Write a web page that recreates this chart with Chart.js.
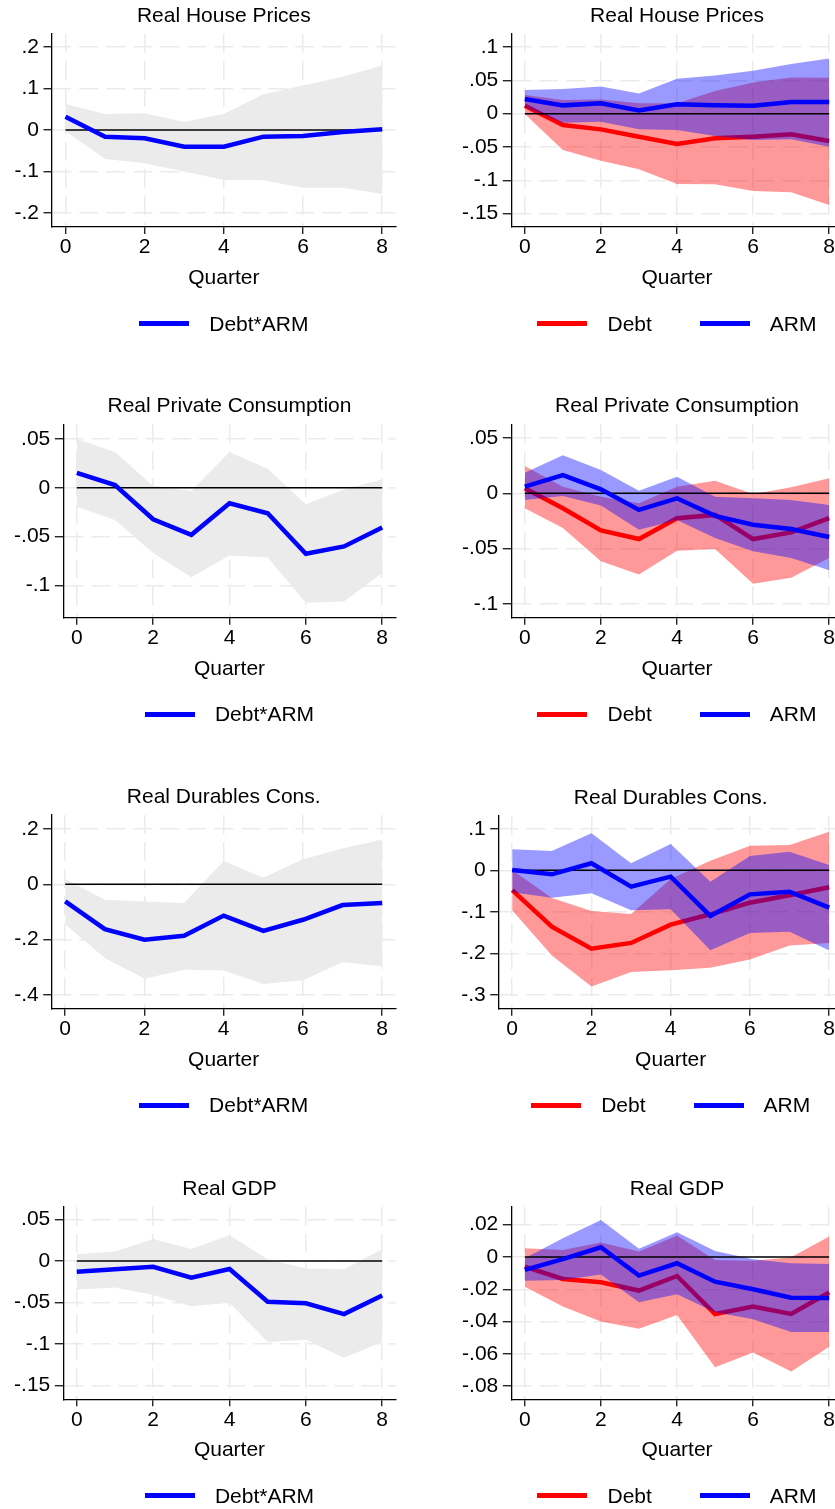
<!DOCTYPE html>
<html>
<head>
<meta charset="utf-8">
<title>Impulse responses: Debt, ARM and Debt*ARM</title>
<script src="https://cdn.jsdelivr.net/npm/chart.js"></script>
<style>
  html, body { margin: 0; padding: 0; background: #fff; overflow: hidden; width: 835px; height: 1509px; }
  body { position: relative; }
  canvas { position: absolute; }
  .legend { position: absolute; display: flex; justify-content: center; align-items: center; height: 25px;
            font: 21px "Liberation Sans", Arial, sans-serif; color: #000; white-space: nowrap; }
  .legend .item { display: flex; align-items: center; }
  .legend .swatch { display: inline-block; width: 50px; height: 5px; margin-right: 20px; }
</style>
</head>
<body>
<script>
// --- Horizon and axis ticks ---
const quarters = [0, 1, 2, 3, 4, 5, 6, 7, 8];
const zeroLine = [0, 0, 0, 0, 0, 0, 0, 0, 0];
const xTicks = [0, 2, 4, 6, 8];
const xTickLabels = ['0', '2', '4', '6', '8'];

// --- Real House Prices ---
const hpInt   = [0.032, -0.016, -0.020, -0.040, -0.040, -0.016, -0.0145, -0.005, 0.002];
const hpIntHi = [0.0625, 0.0385, 0.040, 0.019, 0.039, 0.086, 0.107, 0.128, 0.155];
const hpIntLo = [-0.003, -0.070, -0.080, -0.100, -0.120, -0.121, -0.139, -0.139, -0.154];
const hpDebt   = [0.012, -0.017, -0.0235, -0.0345, -0.0455, -0.037, -0.0345, -0.031, -0.041];
const hpDebtHi = [0.028, 0.0205, 0.0215, 0.0155, 0.0155, 0.034, 0.047, 0.0545, 0.054];
const hpDebtLo = [-0.0005, -0.0545, -0.0705, -0.0835, -0.1055, -0.106, -0.116, -0.118, -0.137];
const hpArm   = [0.022, 0.0125, 0.0155, 0.005, 0.014, 0.0125, 0.012, 0.0175, 0.0175];
const hpArmHi = [0.0355, 0.037, 0.041, 0.0305, 0.0525, 0.0575, 0.0645, 0.0745, 0.083];
const hpArmLo = [0.0095, -0.0135, -0.012, -0.0235, -0.0245, -0.0335, -0.0395, -0.0385, -0.0495];
const hpIntTicks = [-0.2, -0.1, 0, 0.1, 0.2];
const hpIntTickLabels = ['-.2', '-.1', '0', '.1', '.2'];
const hpTicks = [-0.15, -0.1, -0.05, 0, 0.05, 0.1];
const hpTickLabels = ['-.15', '-.1', '-.05', '0', '.05', '.1'];

// --- Real Private Consumption ---
const pcInt   = [0.0153, 0.0027, -0.0323, -0.0483, -0.016, -0.0262, -0.0677, -0.0602, -0.0408];
const pcIntHi = [0.050, 0.0367, 0.0017, -0.0034, 0.0367, 0.0194, -0.017, -0.0017, 0.0085];
const pcIntLo = [-0.0194, -0.033, -0.067, -0.0918, -0.0694, -0.0714, -0.118, -0.1167, -0.0874];
const pcDebt   = [0.0045, -0.0135, -0.0335, -0.0413, -0.0225, -0.0195, -0.0413, -0.0353, -0.0225];
const pcDebtHi = [0.0246, 0.006, -0.003, -0.009, 0.006, 0.0114, -0.0006, 0.0054, 0.0135];
const pcDebtLo = [-0.0135, -0.0314, -0.0614, -0.0734, -0.0518, -0.0503, -0.0817, -0.0763, -0.0584];
const pcArm   = [0.006, 0.0165, 0.0036, -0.015, -0.0045, -0.0204, -0.0284, -0.0323, -0.0395];
const pcArmHi = [0.0186, 0.0344, 0.021, 0.0024, 0.015, -0.003, -0.0045, -0.006, -0.0105];
const pcArmLo = [-0.006, -0.0024, -0.011, -0.033, -0.024, -0.0404, -0.0524, -0.0584, -0.0695];
const pcTicks = [-0.1, -0.05, 0, 0.05];
const pcTickLabels = ['-.1', '-.05', '0', '.05'];

// --- Real Durables Cons. ---
const dcInt   = [-0.062, -0.162, -0.200, -0.186, -0.113, -0.168, -0.128, -0.075, -0.068];
const dcIntHi = [0.019, -0.056, -0.062, -0.068, 0.084, 0.024, 0.090, 0.129, 0.162];
const dcIntLo = [-0.144, -0.266, -0.341, -0.308, -0.311, -0.360, -0.346, -0.281, -0.296];
const dcDebt   = [-0.0476, -0.136, -0.189, -0.175, -0.131, -0.106, -0.078, -0.060, -0.041];
const dcDebtHi = [0.0008, -0.067, -0.098, -0.105, -0.021, 0.023, 0.059, 0.061, 0.093];
const dcDebtLo = [-0.096, -0.205, -0.280, -0.245, -0.241, -0.235, -0.215, -0.181, -0.175];
const dcArm   = [0.001, -0.0097, 0.017, -0.0395, -0.0153, -0.110, -0.058, -0.0516, -0.090];
const dcArmHi = [0.0508, 0.0468, 0.0895, 0.017, 0.0637, -0.0274, 0.0347, 0.045, 0.0129];
const dcArmLo = [-0.053, -0.066, -0.0555, -0.096, -0.094, -0.1926, -0.151, -0.148, -0.193];
const dcIntTicks = [-0.4, -0.2, 0, 0.2];
const dcIntTickLabels = ['-.4', '-.2', '0', '.2'];
const dcTicks = [-0.3, -0.2, -0.1, 0, 0.1];
const dcTickLabels = ['-.3', '-.2', '-.1', '0', '.1'];

// --- Real GDP ---
const gdpInt   = [-0.0129, -0.010, -0.0069, -0.020, -0.0097, -0.049, -0.051, -0.064, -0.0415];
const gdpIntHi = [0.008, 0.0113, 0.0266, 0.0145, 0.031, 0.002, -0.0089, -0.010, 0.0141];
const gdpIntLo = [-0.0343, -0.0319, -0.041, -0.0544, -0.0504, -0.0976, -0.0948, -0.1165, -0.0976];
const gdpDebt   = [-0.006, -0.0136, -0.0157, -0.0208, -0.0118, -0.0353, -0.0307, -0.0353, -0.022];
const gdpDebtHi = [0.0054, 0.0043, 0.0089, 0.0033, 0.0132, -0.0019, -0.0023, -0.0002, 0.0126];
const gdpDebtLo = [-0.0184, -0.0307, -0.040, -0.0445, -0.0359, -0.0682, -0.0592, -0.0709, -0.0555];
const gdpArm   = [-0.008, -0.0014, 0.006, -0.0115, -0.0039, -0.0153, -0.020, -0.0252, -0.0254];
const gdpArmHi = [-0.0008, 0.0115, 0.0229, 0.005, 0.0153, 0.0037, -0.0014, -0.0039, -0.0043];
const gdpArmLo = [-0.0148, -0.0143, -0.0109, -0.028, -0.0231, -0.0343, -0.0386, -0.0465, -0.0465];
const gdpIntTicks = [-0.15, -0.1, -0.05, 0, 0.05];
const gdpIntTickLabels = ['-.15', '-.1', '-.05', '0', '.05'];
const gdpTicks = [-0.08, -0.06, -0.04, -0.02, 0, 0.02];
const gdpTickLabels = ['-.08', '-.06', '-.04', '-.02', '0', '.02'];

// --- Styles ---
const BLUE = '#0000ff';
const RED = '#ff0000';
const GRAY_BAND = '#ebebeb';
const RED_BAND = 'rgba(255, 0, 0, 0.4)';
const BLUE_BAND = 'rgba(0, 0, 255, 0.4)';
const FONT = '"Liberation Sans", Arial, sans-serif';
const PANEL_H = 390;

Chart.defaults.font.family = FONT;
Chart.defaults.font.size = 21;
Chart.defaults.color = '#000';

const interaction = (mid, lo, hi) => [{ label: 'Debt*ARM', color: BLUE, band: GRAY_BAND, mid, lo, hi }];
const debtArm = (d, dLo, dHi, a, aLo, aHi) => [
    { label: 'Debt', color: RED, band: RED_BAND, mid: d, lo: dLo, hi: dHi },
    { label: 'ARM', color: BLUE, band: BLUE_BAND, mid: a, lo: aLo, hi: aHi }
];

// box = plot area [left, top, right, bottom] inside each canvas
const panels = [
    { x: 0, y: 0, w: 417, box: [52, 33.7, 395.7, 227], yRange: [-0.2332, 0.2315], title: 'Real House Prices',
      yTicks: hpIntTicks, yLabels: hpIntTickLabels, series: interaction(hpInt, hpIntLo, hpIntHi) },
    { x: 417, y: 0, w: 440, box: [94.3, 33.7, 425.7, 227], yRange: [-0.1701, 0.1201], title: 'Real House Prices',
      yTicks: hpTicks, yLabels: hpTickLabels, series: debtArm(hpDebt, hpDebtLo, hpDebtHi, hpArm, hpArmLo, hpArmHi) },
    { x: 0, y: 390, w: 417, box: [63.3, 34.3, 395.7, 227.7], yRange: [-0.1332, 0.065], title: 'Real Private Consumption',
      yTicks: pcTicks, yLabels: pcTickLabels, series: interaction(pcInt, pcIntLo, pcIntHi) },
    { x: 417, y: 390, w: 440, box: [94.3, 34.3, 425.7, 227.7], yRange: [-0.1123, 0.0623], title: 'Real Private Consumption',
      yTicks: pcTicks, yLabels: pcTickLabels, series: debtArm(pcDebt, pcDebtLo, pcDebtHi, pcArm, pcArmLo, pcArmHi) },
    { x: 0, y: 780, w: 417, box: [51.7, 35, 395.7, 228.7], yRange: [-0.449, 0.25], title: 'Real Durables Cons.',
      yTicks: dcIntTicks, yLabels: dcIntTickLabels, series: interaction(dcInt, dcIntLo, dcIntHi) },
    { x: 417, y: 780, w: 440, box: [81.7, 35.7, 425.7, 228.7], yRange: [-0.3335, 0.1316], title: 'Real Durables Cons.',
      yTicks: dcTicks, yLabels: dcTickLabels, series: debtArm(dcDebt, dcDebtLo, dcDebtHi, dcArm, dcArmLo, dcArmHi) },
    { x: 0, y: 1170, w: 417, box: [63.3, 36.7, 395.7, 229.3], yRange: [-0.1666, 0.0654], title: 'Real GDP',
      yTicks: gdpIntTicks, yLabels: gdpIntTickLabels, series: interaction(gdpInt, gdpIntLo, gdpIntHi) },
    { x: 417, y: 1170, w: 440, box: [94.3, 36.7, 425.7, 229.3], yRange: [-0.0881, 0.0311], title: 'Real GDP',
      yTicks: gdpTicks, yLabels: gdpTickLabels, series: debtArm(gdpDebt, gdpDebtLo, gdpDebtHi, gdpArm, gdpArmLo, gdpArmHi) }
];

const gridStyle = { color: '#ebebeb', lineWidth: 1.5, tickColor: '#000', tickWidth: 1.2, tickBorderDash: [] };
const borderStyle = { color: '#000', width: 1.3, dash: [19, 8] };

function buildPanel(p) {
    const [L, T, R, B] = p.box;
    const canvas = document.createElement('canvas');
    canvas.width = p.w;
    canvas.height = PANEL_H;
    canvas.style.left = p.x + 'px';
    canvas.style.top = p.y + 'px';
    document.body.appendChild(canvas);

    // bands first, then lines; the last band sits under the zero line and the last line
    const datasets = [];
    const n = p.series.length;
    p.series.forEach((s, i) => {
        const base = 20 - 4 * i;
        datasets.push({ data: s.hi, fill: '+1', backgroundColor: s.band, borderColor: 'transparent', borderWidth: 0, pointRadius: 0, order: base });
        datasets.push({ data: s.lo, fill: false, borderColor: 'transparent', borderWidth: 0, pointRadius: 0, order: base });
        datasets.push({ label: s.label, data: s.mid, borderColor: s.color, borderWidth: 4.5, pointRadius: 0, fill: false, order: base - 2 });
    });
    datasets.push({ data: zeroLine, borderColor: '#000', borderWidth: 1.5, pointRadius: 0, fill: false, order: 20 - 4 * (n - 1) - 1 });

    const unit = (R - L - 27) / 8; // Stata leaves ~13.5px beyond the first and last quarter
    const chart = new Chart(canvas, {
        type: 'line',
        data: { labels: quarters, datasets },
        options: {
            responsive: false,
            animation: false,
            events: [],
            layout: { padding: { left: 0, top: 0, right: p.w - R, bottom: PANEL_H - B - 66 } },
            plugins: {
                legend: { display: false },
                tooltip: { enabled: false },
                title: {
                    display: true, text: p.title, fullSize: false, color: '#000',
                    font: { size: 21, weight: 'normal' },
                    padding: { top: T - 30.3, bottom: 5.1 }
                }
            },
            scales: {
                x: {
                    type: 'linear',
                    min: -13.5 / unit,
                    max: 8 + 13.5 / unit,
                    afterBuildTicks: sc => { sc.ticks = xTicks.map(v => ({ value: v })); },
                    afterFit: sc => { sc.height = 66; },
                    ticks: { color: '#000', font: { size: 21 }, padding: 0.9, maxRotation: 0, autoSkip: false,
                             callback: (v, i) => xTickLabels[i] },
                    grid: { ...gridStyle, tickLength: 7 },
                    border: borderStyle,
                    title: { display: true, text: 'Quarter', color: '#000', font: { size: 21 }, padding: { top: 0, bottom: 2.1 } }
                },
                y: {
                    min: p.yRange[0],
                    max: p.yRange[1],
                    afterBuildTicks: sc => { sc.ticks = p.yTicks.map(v => ({ value: v })); },
                    afterFit: sc => { sc.width = L; },
                    ticks: { color: '#000', font: { size: 21 }, padding: 4.5, autoSkip: false,
                             callback: (v, i) => p.yLabels[i] },
                    grid: { ...gridStyle, tickLength: 8.5 },
                    border: borderStyle
                }
            }
        }
    });

    // Stata-style legend under the plot, centred on the plot region
    const area = chart.chartArea;
    const legend = document.createElement('div');
    legend.className = 'legend';
    legend.style.left = (p.x + area.left) + 'px';
    legend.style.width = (area.right - area.left) + 'px';
    legend.style.top = (p.y + B + 96.5 - 12.5) + 'px';
    p.series.forEach((s, i) => {
        const item = document.createElement('span');
        item.className = 'item';
        if (i > 0) item.style.marginLeft = '48px';
        const swatch = document.createElement('span');
        swatch.className = 'swatch';
        swatch.style.background = s.color;
        const text = document.createElement('span');
        text.textContent = s.label;
        item.append(swatch, text);
        legend.appendChild(item);
    });
    document.body.appendChild(legend);
}

panels.forEach(buildPanel);
</script>
</body>
</html>
